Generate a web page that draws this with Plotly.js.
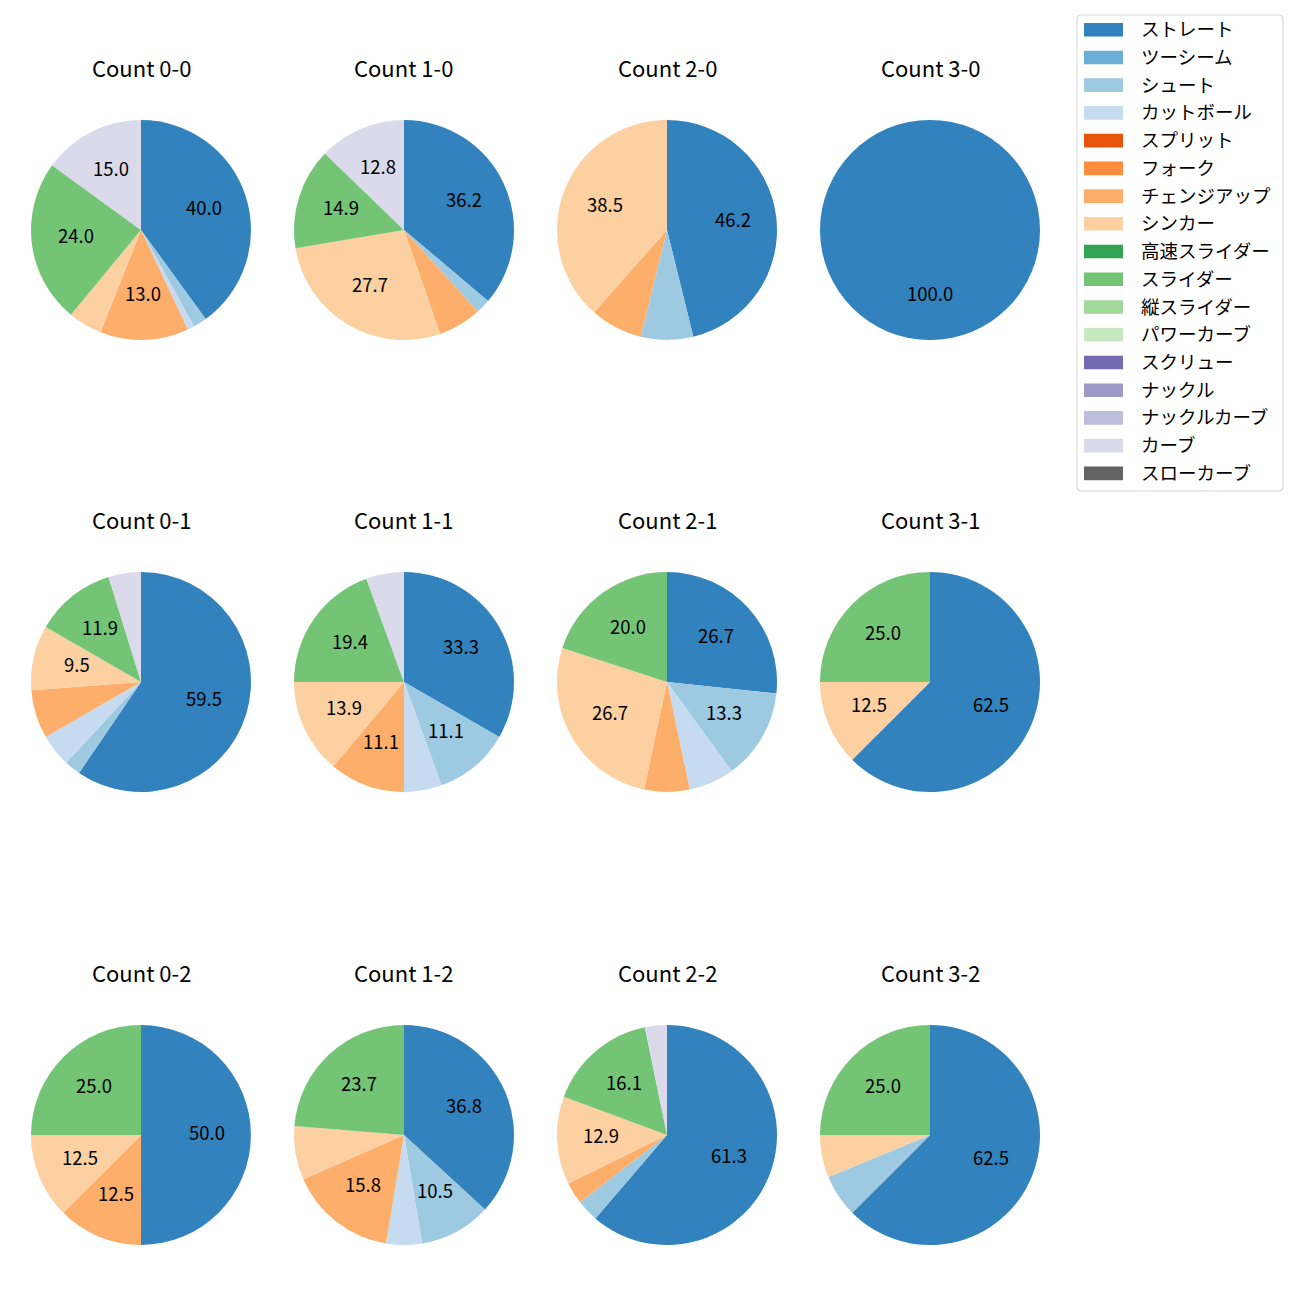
<!DOCTYPE html>
<html>
<head>
<meta charset="utf-8">
<script src="https://cdn.plot.ly/plotly-3.0.1.min.js"></script>
<style>html,body{margin:0;padding:0;background:#fff;}#chart{width:1300px;height:1300px;}</style>
</head>
<body>
<div id="chart"></div>
<script>
// ---- data ----
const pitchTypes = ['ストレート','ツーシーム','シュート','カットボール','スプリット','フォーク','チェンジアップ','シンカー','高速スライダー','スライダー','縦スライダー','パワーカーブ','スクリュー','ナックル','ナックルカーブ','カーブ','スローカーブ'];
const pitchColors = ['#3182bd','#6baed6','#9ecae1','#c6dbef','#e6550d','#fd8d3c','#fdae6b','#fdd0a2','#31a354','#74c476','#a1d99b','#c7e9c0','#756bb1','#9e9ac8','#bcbddc','#dadaeb','#636363'];

const countTitles = ['Count 0-0','Count 1-0','Count 2-0','Count 3-0','Count 0-1','Count 1-1','Count 2-1','Count 3-1','Count 0-2','Count 1-2','Count 2-2','Count 3-2'];

const count_0_0 = [40,0,2,1,0,0,13,5,0,24,0,0,0,0,0,15,0];
const count_1_0 = [17,0,1,0,0,0,3,13,0,7,0,0,0,0,0,6,0];
const count_2_0 = [6,0,1,0,0,0,1,5,0,0,0,0,0,0,0,0,0];
const count_3_0 = [3,0,0,0,0,0,0,0,0,0,0,0,0,0,0,0,0];
const count_0_1 = [25,0,1,2,0,0,3,4,0,5,0,0,0,0,0,2,0];
const count_1_1 = [12,0,4,2,0,0,4,5,0,7,0,0,0,0,0,2,0];
const count_2_1 = [4,0,2,1,0,0,1,4,0,3,0,0,0,0,0,0,0];
const count_3_1 = [5,0,0,0,0,0,0,1,0,2,0,0,0,0,0,0,0];
const count_0_2 = [4,0,0,0,0,0,1,1,0,2,0,0,0,0,0,0,0];
const count_1_2 = [14,0,4,2,0,0,6,3,0,9,0,0,0,0,0,0,0];
const count_2_2 = [19,0,1,0,0,0,1,4,0,5,0,0,0,0,0,1,0];
const count_3_2 = [10,0,1,0,0,0,0,1,0,4,0,0,0,0,0,0,0];

const allCounts = [count_0_0,count_1_0,count_2_0,count_3_0,count_0_1,count_1_1,count_2_1,count_3_1,count_0_2,count_1_2,count_2_2,count_3_2];

// ---- layout geometry (pixels) ----
const W = 1300, H = 1300;
const colCX = [141, 404, 667, 930];
const rowCY = [230, 682, 1135];
const R = 110;
const titleOffset = 161;
const FONT = '"Noto Sans CJK JP", "Noto Sans", sans-serif';
const px = x => x / W;
const py = y => 1 - y / H;

const traces = [];
const annotations = [];
const shapes = [];

allCounts.forEach((vals, i) => {
  const cx = colCX[i % 4], cy = rowCY[Math.floor(i / 4)];
  traces.push({
    type: 'pie',
    labels: pitchTypes,
    values: vals,
    marker: {colors: pitchColors, line: {width: 0}},
    sort: false,
    direction: 'clockwise',
    rotation: 0,
    textinfo: 'none',
    hoverinfo: 'label+percent',
    showlegend: false,
    domain: {x: [px(cx - R), px(cx + R)], y: [py(cy + R), py(cy - R)]}
  });
  annotations.push({
    xref: 'paper', yref: 'paper', x: px(cx), y: py(cy - titleOffset), yshift: 2,
    text: countTitles[i], showarrow: false, xanchor: 'center', yanchor: 'middle',
    font: {family: FONT, size: 22, color: '#000'}
  });
  const total = vals.reduce((a, b) => a + b, 0);
  let cum = 0;
  vals.forEach(v => {
    if (v > 0) {
      const pct = v / total * 100;
      if (pct >= 9) {
        const f = (cum + v / 2) / total;
        const a = 2 * Math.PI * f;
        annotations.push({
          xref: 'paper', yref: 'paper',
          x: px(cx + 0.6 * R * Math.sin(a)), y: py(cy - 0.6 * R * Math.cos(a)), yshift: 3,
          text: pct.toFixed(1), showarrow: false, xanchor: 'center', yanchor: 'middle',
          font: {family: FONT, size: 18.5, color: '#000'}
        });
      }
    }
    cum += v;
  });
});

// ---- legend (drawn from category arrays) ----
const legL = 1077, legR = 1283, legT = 15, legB = 491, rad = 4;
const legPath = `M${px(legL+rad)},${py(legT)} L${px(legR-rad)},${py(legT)} Q${px(legR)},${py(legT)} ${px(legR)},${py(legT+rad)} L${px(legR)},${py(legB-rad)} Q${px(legR)},${py(legB)} ${px(legR-rad)},${py(legB)} L${px(legL+rad)},${py(legB)} Q${px(legL)},${py(legB)} ${px(legL)},${py(legB-rad)} L${px(legL)},${py(legT+rad)} Q${px(legL)},${py(legT)} ${px(legL+rad)},${py(legT)} Z`;
shapes.push({type: 'path', xref: 'paper', yref: 'paper', path: legPath, line: {color: '#d5d5d5', width: 1}, fillcolor: 'rgba(255,255,255,0.8)'});
const legFirstY = 29.7, legStep = 27.73;
pitchTypes.forEach((name, k) => {
  const yc = legFirstY + k * legStep;
  shapes.push({type: 'rect', xref: 'paper', yref: 'paper', x0: px(1084), x1: px(1123), y0: py(yc - 6.8), y1: py(yc + 6.8), fillcolor: pitchColors[k], line: {width: 0}});
  annotations.push({xref: 'paper', yref: 'paper', x: px(1139), y: py(yc), yshift: 1.5, text: name, showarrow: false, xanchor: 'left', yanchor: 'middle', font: {family: FONT, size: 18.5, color: '#000'}});
});

const layout = {
  width: W, height: H,
  margin: {l: 0, r: 0, t: 0, b: 0},
  paper_bgcolor: '#fff', plot_bgcolor: '#fff',
  showlegend: false,
  annotations: annotations,
  shapes: shapes,
  font: {family: FONT}
};

Plotly.newPlot('chart', traces, layout, {displayModeBar: false, staticPlot: true});
</script>
</body>
</html>
